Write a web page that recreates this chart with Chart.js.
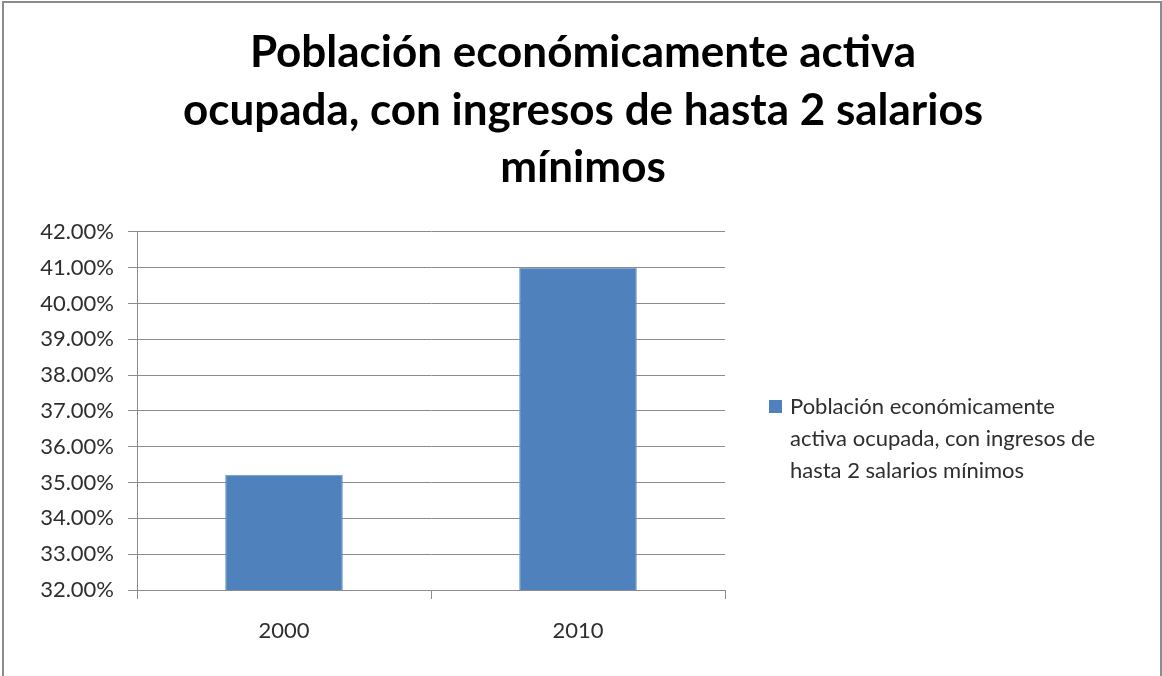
<!DOCTYPE html>
<html>
<head>
<meta charset="utf-8">
<script src="https://cdn.jsdelivr.net/npm/chart.js@4"></script>
<style>
  html, body { margin: 0; padding: 0; background: #fff; }
  #wrap { position: relative; width: 1162px; height: 676px; }
  #frame {
    position: absolute; left: 2px; top: 1px; width: 1156px; height: 700px;
    border: 2px solid #8c8c8c; border-bottom: none; pointer-events: none;
  }
</style>
</head>
<body>
<div id="wrap">
  <canvas id="chart" width="1162" height="676"></canvas>
  <div id="frame"></div>
</div>
<script>
const titleLines = ['Población económicamente activa', 'ocupada, con ingresos de hasta 2 salarios', 'mínimos'];
const years = ['2000', '2010'];
const seriesLabel = 'Población económicamente activa ocupada, con ingresos de hasta 2 salarios mínimos';
const legendLines = ['Población económicamente', 'activa ocupada, con ingresos de', 'hasta 2 salarios mínimos'];
const shares = [35.22, 41.0];

const FONT = 'Lato, "Open Sans", sans-serif';
const TEXT = '#2e2e2e';
const GRID = '#8c8c8c';

// legend on the right, wrapped over three lines
const wrappedLegend = {
    id: 'wrappedLegend',
    afterDraw(chart) {
        const ctx = chart.ctx;
        const ds = chart.data.datasets[0];
        const x = chart.chartArea.right + 44;
        const y = 400;
        ctx.save();
        ctx.fillStyle = ds.backgroundColor;
        ctx.fillRect(x, y, 13, 13);
        ctx.font = '22px ' + FONT;
        ctx.fillStyle = TEXT;
        ctx.textBaseline = 'middle';
        legendLines.forEach((line, i) => {
            ctx.fillText(line, x + 21, y + 7 + i * 32);
        });
        ctx.restore();
    }
};

new Chart(document.getElementById('chart'), {
    type: 'bar',
    data: {
        labels: years,
        datasets: [{
            label: seriesLabel,
            data: shares,
            backgroundColor: '#4F81BD',
            borderColor: '#6f98cb',
            borderWidth: 1,
            barPercentage: 0.4,
            categoryPercentage: 1.0
        }]
    },
    options: {
        responsive: false,
        animation: false,
        layout: { padding: { left: 4, top: 0, right: 0, bottom: 0 } },
        plugins: {
            legend: { display: false },
            tooltip: { enabled: false },
            title: {
                display: true,
                text: titleLines,
                color: '#000',
                font: { family: FONT, size: 44, weight: 'bold', lineHeight: 1.31 },
                padding: { top: 24, bottom: 35 }
            }
        },
        scales: {
            x: {
                grid: { display: true, drawOnChartArea: false, offset: true, color: GRID, tickLength: 9 },
                border: { color: GRID },
                ticks: { color: TEXT, font: { family: FONT, size: 22 }, padding: 19 },
                afterFit: s => { s.height = 86; }
            },
            y: {
                min: 32,
                max: 42,
                grid: { color: GRID, tickLength: 9 },
                border: { color: GRID },
                ticks: {
                    stepSize: 1,
                    color: TEXT,
                    font: { family: FONT, size: 22 },
                    padding: 14,
                    callback: v => v.toFixed(2) + '%'
                },
                afterFit: s => { s.width = 133; }
            },
            side: {
                position: 'right',
                display: true,
                grid: { display: false },
                border: { display: false },
                ticks: { display: false },
                afterFit: s => { s.width = 437; }
            }
        }
    },
    plugins: [wrappedLegend]
});
</script>
</body>
</html>
